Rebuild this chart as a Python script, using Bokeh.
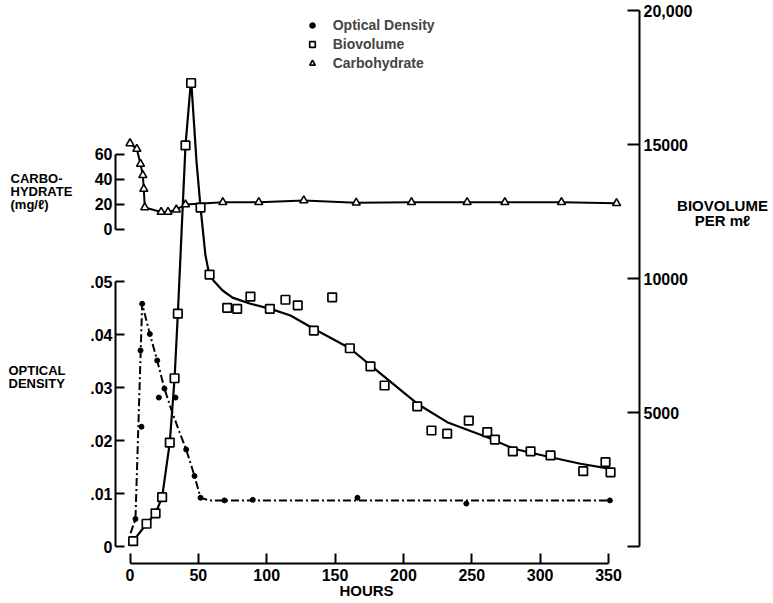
from bokeh.plotting import figure
from bokeh.models import (Range1d, LinearAxis, FixedTicker, Legend, LegendItem, Label)
from bokeh.embed import file_html
from bokeh.resources import INLINE

# ---------------- data ----------------
od_hours = [4.0, 7.7, 8.4, 8.9, 14.5, 19.9, 21.1, 25.2, 33.3, 41.1, 47.2, 51.6, 69.1, 89.8, 166.4, 246.0, 351.0]
od_values = [0.0052, 0.0370, 0.0226, 0.0458, 0.0401, 0.0351, 0.0281, 0.0298, 0.0281, 0.0183, 0.0133, 0.0092,
             0.0087, 0.0088, 0.0092, 0.0081, 0.0087]

od_curve_hours = [0.4, 4.0, 8.9, 14.5, 19.9, 25.2, 29.6, 35.7, 41.1, 47.2, 51.6, 58.0, 69.1, 89.8, 166.4, 246.0, 351.0]
od_curve_values = [0.0025, 0.0052, 0.0458, 0.0401, 0.0351, 0.0298, 0.0263, 0.0219, 0.0183, 0.0133, 0.0092,
                   0.0087, 0.0087, 0.0087, 0.0087, 0.0087, 0.0087]

bv_hours = [2.3, 12.1, 18.7, 23.5, 29.1, 32.6, 35.0, 40.6, 44.7, 51.6, 58.2, 71.1, 78.4, 88.1, 102.3, 113.7,
            122.7, 134.5, 147.9, 160.8, 175.9, 186.2, 210.1, 220.5, 232.0, 247.8, 261.3, 266.9, 280.0, 293.0,
            307.6, 331.5, 347.8, 351.5]
bv_values = [200, 850, 1240, 1840, 3880, 6280, 8690, 14970, 17300, 12650, 10150, 8910, 8870, 9330, 8870, 9210,
             9000, 8060, 9300, 7400, 6720, 6010, 5230, 4330, 4210, 4700, 4270, 3990, 3550, 3550,
             3400, 2810, 3150, 2770]

bv_curve_hours = [2.3, 12.1, 18.7, 23.5, 29.1, 32.6, 35.0, 40.6, 44.7, 48.6, 51.6, 55.2, 57.4, 61.0, 67.7, 75.0,
                  88.1, 102.8, 117.4, 134.4, 160.8, 183.3, 210.1, 232.0, 261.3, 280.7, 305.2, 329.5, 351.5]
bv_curve_values = [200, 850, 1240, 1840, 3880, 6280, 8690, 14970, 17450, 14400, 12650, 10860, 10300, 9930, 9555,
                   9290, 9060, 8870, 8620, 8130, 7400, 6450, 5330, 4640, 4080, 3650, 3360, 3090, 2900]

carb_hours = [0.0, 5.0, 7.7, 9.4, 10.1, 10.8, 22.8, 27.8, 33.9, 40.6, 67.9, 94.2, 127.1, 165.5, 205.9, 246.6,
              274.2, 315.6, 355.9]
carb_values = [68.5, 64.0, 52.0, 43.0, 32.0, 17.2, 13.6, 13.6, 15.5, 19.6, 21.4, 21.4, 22.8, 21.0, 21.4, 21.4,
               21.4, 21.4, 20.6]

hour_ticks = [0, 50, 100, 150, 200, 250, 300, 350]
od_ticks = [0, 0.01, 0.02, 0.03, 0.04, 0.05]
od_tick_labels = ["0", ".01", ".02", ".03", ".04", ".05"]
carb_ticks = [0, 20, 40, 60]
carb_tick_labels = ["0", "20", "40", "60"]
bv_ticks = [0, 5000, 10000, 15000, 20000]
bv_tick_labels = ["", "5000", "10000", "15000", "20,000"]

legend_labels = ["Optical Density", "Biovolume", "Carbohydrate"]

# ---------------- calibration (picture pixels) ----------------
W, H = 773, 603
X_H0, PX_PER_H = 129.5, 478.5 / 350.0      # picture x of hour 0, px per hour
Y_BV0, PX_PER_BV = 546.0, 0.026792         # picture y of biovolume 0
Y_OD0, PX_PER_OD = 546.0, 5300.0
Y_C0, PX_PER_C = 228.5, 1.25


def hx(X):   # picture x -> hours
    return (X - X_H0) / PX_PER_H


def by(Y):   # picture y -> biovolume units
    return (Y_BV0 - Y) / PX_PER_BV


x_range = Range1d(hx(0), hx(W))
bv_range = Range1d(by(H), by(0))
od_range = Range1d((Y_OD0 - H) / PX_PER_OD, Y_OD0 / PX_PER_OD)
carb_range = Range1d((Y_C0 - H) / PX_PER_C, Y_C0 / PX_PER_C)

p = figure(width=W, height=H, x_range=x_range, y_range=bv_range,
           x_axis_type=None, y_axis_type=None, toolbar_location=None,
           output_backend="svg", min_border=0)
p.min_border_left = p.min_border_right = p.min_border_top = p.min_border_bottom = 0
p.extra_y_ranges = {"od": od_range, "carb": carb_range}
p.outline_line_color = None
p.background_fill_color = "white"
p.border_fill_color = "white"

FONT = "Liberation Sans"


def style_axis(ax, tick_in, standoff, size="16px"):
    ax.axis_line_width = 2
    ax.axis_line_color = "black"
    ax.major_tick_line_width = 2
    ax.major_tick_line_color = "black"
    ax.major_tick_in = tick_in
    ax.major_tick_out = 0
    ax.minor_tick_in = 0
    ax.minor_tick_out = 0
    ax.major_label_standoff = standoff
    ax.major_label_text_font = FONT
    ax.major_label_text_font_size = size
    ax.major_label_text_font_style = "bold"
    ax.major_label_text_color = "black"


left_x = hx(115)
od_axis = LinearAxis(y_range_name="od", ticker=FixedTicker(ticks=od_ticks), bounds=(0, 0.05),
                     fixed_location=left_x,
                     major_label_overrides={t: l for t, l in zip(od_ticks, od_tick_labels)})
style_axis(od_axis, 9, 3)
p.add_layout(od_axis, "left")

carb_axis = LinearAxis(y_range_name="carb", ticker=FixedTicker(ticks=carb_ticks), bounds=(0, 60),
                       fixed_location=left_x,
                       major_label_overrides={t: l for t, l in zip(carb_ticks, carb_tick_labels)})
style_axis(carb_axis, 9, 3)
p.add_layout(carb_axis, "left")

bv_axis = LinearAxis(ticker=FixedTicker(ticks=bv_ticks), bounds=(0, 20000), fixed_location=hx(639),
                     major_label_overrides={t: l for t, l in zip(bv_ticks, bv_tick_labels)})
style_axis(bv_axis, 12, 4)
p.add_layout(bv_axis, "right")

x_axis = LinearAxis(ticker=FixedTicker(ticks=hour_ticks), bounds=(0, 350), fixed_location=by(563))
style_axis(x_axis, 10, 5)
p.add_layout(x_axis, "below")

# ---------------- series ----------------
p.line(carb_hours, carb_values, y_range_name="carb", line_width=2, line_color="black")
p.line(bv_curve_hours, bv_curve_values, line_width=2.2, line_color="black")
p.line(od_curve_hours, od_curve_values, y_range_name="od", line_width=2, line_color="black",
       line_dash="8 3 2 3")

carb_r = p.scatter(carb_hours, carb_values, y_range_name="carb", marker="triangle", size=8,
                   fill_color="white", line_color="black", line_width=1.6)
bv_r = p.scatter(bv_hours, bv_values, marker="square", size=8.5, fill_color="white",
                 line_color="black", line_width=1.7)
od_r = p.scatter(od_hours, od_values, y_range_name="od", marker="circle", size=5,
                 fill_color="black", line_color="black")

legend = Legend(items=[LegendItem(label=legend_labels[0], renderers=[od_r]),
                       LegendItem(label=legend_labels[1], renderers=[bv_r]),
                       LegendItem(label=legend_labels[2], renderers=[carb_r])],
                location=(304.7, H - 71),
                glyph_width=14, glyph_height=16, label_height=16, spacing=3, padding=0, margin=0,
                label_standoff=14, border_line_color=None, background_fill_alpha=0,
                label_text_font=FONT, label_text_font_size="14px", label_text_font_style="bold")
p.add_layout(legend)


def add_text(X, Y, text, align="left", size="13px"):
    p.add_layout(Label(x=hx(X), y=by(Y), text=text, text_align=align, text_baseline="middle",
                       text_font=FONT, text_font_size=size, text_font_style="bold",
                       text_color="black"))


add_text(10, 178, "CARBO-")
add_text(10, 191, "HYDRATE")
add_text(10, 204, "(mg/\u2113)")
add_text(8, 370, "OPTICAL")
add_text(8, 383, "DENSITY")
add_text(722, 205, "BIOVOLUME", "center", "15px")
add_text(722, 220, "PER m\u2113", "center", "15px")
add_text(366, 590, "HOURS", "center", "15px")

open("out.html", "w").write(file_html(p, INLINE))
